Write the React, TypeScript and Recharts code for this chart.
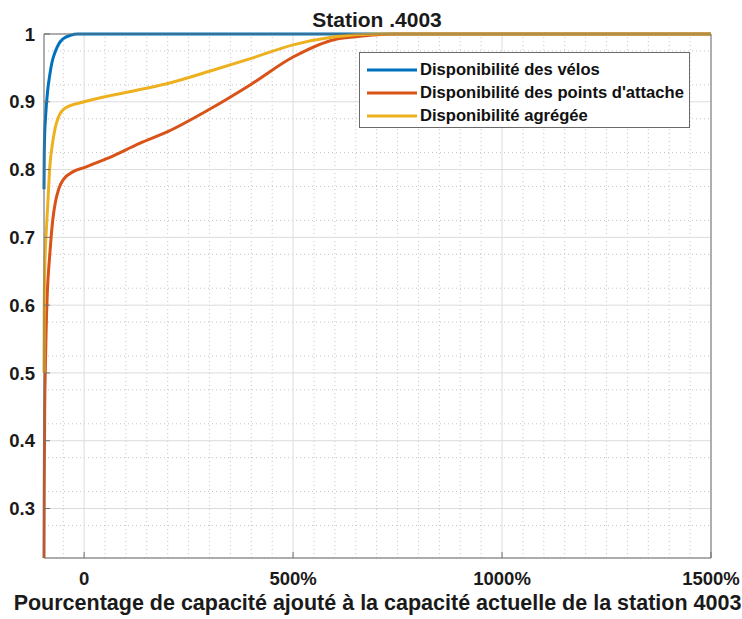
import { LineChart, Line, XAxis, YAxis, CartesianGrid, Legend, ReferenceLine } from 'recharts';

const FONT = '"Liberation Sans", Arial, Helvetica, sans-serif';

// axes
const X_MIN = -96;
const X_MAX = 1500;
const Y_MIN = 0.227;
const Y_MAX = 1;
const xTicks = [0, 500, 1000, 1500];
const yTicks = [0.3, 0.4, 0.5, 0.6, 0.7, 0.8, 0.9, 1];
const xMinor = [-50, 50, 100, 150, 200, 250, 300, 350, 400, 450, 550, 600, 650, 700, 750, 800, 850, 900, 950,
  1050, 1100, 1150, 1200, 1250, 1300, 1350, 1400, 1450];
const yMinor = [0.25, 0.275, 0.325, 0.35, 0.375, 0.425, 0.45, 0.475, 0.525, 0.55, 0.575, 0.625, 0.65, 0.675,
  0.725, 0.75, 0.775, 0.825, 0.85, 0.875, 0.925, 0.95, 0.975];

const seriesNames = [
  'Disponibilité des vélos',
  "Disponibilité des points d'attache",
  'Disponibilité agrégée',
];

// séries : [pourcentage ajouté, disponibilité]
const velos: [number, number][] = [
  [-96, 0.771], [-95.5, 0.815], [-94.5, 0.85], [-92.5, 0.875], [-87, 0.918], [-84, 0.932], [-77, 0.958],
  [-69, 0.974], [-61, 0.985], [-50, 0.993], [-33, 0.998], [-15, 1], [1500, 1],
];
const pointsAttache: [number, number][] = [
  [-96, 0.227], [-95.4, 0.33], [-94.4, 0.44], [-93, 0.5], [-91, 0.56], [-88, 0.619], [-83, 0.668],
  [-79, 0.7], [-75, 0.726], [-69, 0.751], [-61, 0.771], [-50, 0.785], [-26, 0.797], [0, 0.803],
  [54, 0.816], [134, 0.839], [200, 0.856], [300, 0.889], [400, 0.926], [500, 0.966],
  [600, 0.992], [650, 0.996], [700, 0.999], [750, 1], [1500, 1],
];
const agregee: [number, number][] = [
  [-96, 0.5], [-95.5, 0.6], [-93.5, 0.668], [-90.5, 0.71], [-87, 0.748], [-82, 0.805], [-76, 0.837],
  [-69, 0.862], [-61, 0.878], [-45, 0.891], [0, 0.9], [134, 0.918], [200, 0.927], [300, 0.945],
  [400, 0.964], [500, 0.984], [600, 0.996], [700, 1], [1500, 1],
];

const toRows = (pts: [number, number][]) => pts.map(([x, y]) => ({ x, y }));

const fmtX = (v: number) => (v === 0 ? '0' : `${v}%`);
const fmtY = (v: number) => (v === 1 ? '1' : v.toFixed(1));

const tickStyle = { fontFamily: FONT, fontSize: 18.5, fontWeight: 700, fill: '#1a1a1a' };
const AXIS = '#707070';

function LegendBox({ payload }: any) {
  const items = [...(payload || [])].sort(
    (a: any, b: any) => seriesNames.indexOf(a.value) - seriesNames.indexOf(b.value),
  );
  return (
    <div
      style={{
        background: '#fff',
        border: '1px solid #6a6a6a',
        boxSizing: 'border-box',
        width: 331,
        height: 76,
        padding: '5px 0 0 7px',
        fontFamily: FONT,
        fontWeight: 700,
        fontSize: 16.6,
        color: '#111',
      }}
    >
      {items.map((p: any) => (
        <div key={p.value} style={{ display: 'flex', alignItems: 'center', height: 23 }}>
          <svg width={50} height={6} style={{ marginRight: 3 }}>
            <line x1={0} y1={3} x2={50} y2={3} stroke={p.color} strokeWidth={3} />
          </svg>
          <span>{p.value}</span>
        </div>
      ))}
    </div>
  );
}

export default function App() {
  return (
    <div style={{ position: 'absolute', left: 0, top: 0, width: 742, height: 619, background: '#fff' }}>
      <LineChart width={742} height={619} margin={{ top: 33, right: 30, bottom: 0, left: 0 }}>
        <CartesianGrid xAxisId="minorX" yAxisId="minorY" vertical={false} stroke="#c4c4c4" strokeDasharray="1 3" />
        {xMinor.map(v => (
          <ReferenceLine key={v} x={v} stroke="#c4c4c4" strokeDasharray="1 3" zIndex={-100} />
        ))}
        <CartesianGrid stroke="#dcdcdc" />
        <XAxis
          type="number"
          dataKey="x"
          domain={[X_MIN, X_MAX]}
          ticks={xTicks}
          tickFormatter={fmtX}
          tick={tickStyle}
          tickSize={-6}
          tickMargin={20}
          stroke={AXIS}
          height={61}
          label={{
            value: 'Pourcentage de capacité ajouté à la capacité actuelle de la station 4003',
            position: 'insideBottom',
            offset: 9,
            style: { fontFamily: FONT, fontSize: 21.5, fontWeight: 700, fill: '#1a1a1a' },
          }}
        />
        <XAxis
          xAxisId="top"
          orientation="top"
          type="number"
          domain={[X_MIN, X_MAX]}
          ticks={xTicks}
          allowDataOverflow
          tick={false}
          tickSize={-6}
          stroke={AXIS}
          height={1}
        />
        <XAxis xAxisId="minorX" type="number" domain={[X_MIN, X_MAX]} ticks={xMinor} allowDataOverflow hide />
        <YAxis
          type="number"
          domain={[Y_MIN, Y_MAX]}
          ticks={yTicks}
          tickFormatter={fmtY}
          tick={tickStyle}
          tickSize={-6}
          tickMargin={15}
          stroke={AXIS}
          width={44}
        />
        <YAxis
          yAxisId="right"
          orientation="right"
          type="number"
          domain={[Y_MIN, Y_MAX]}
          ticks={yTicks}
          allowDataOverflow
          tick={false}
          tickSize={-6}
          stroke={AXIS}
          width={1}
        />
        <YAxis yAxisId="minorY" type="number" domain={[Y_MIN, Y_MAX]} ticks={yMinor} allowDataOverflow hide />
        <Legend
          layout="horizontal"
          verticalAlign="middle"
          align="center"
          wrapperStyle={{ left: 359, top: 52, width: 331, height: 76 }}
          content={<LegendBox />}
        />
        <Line data={toRows(velos)} dataKey="y" name={seriesNames[0]} type="monotone"
          stroke="#0072BD" strokeWidth={3} dot={false} isAnimationActive={false} />
        <Line data={toRows(pointsAttache)} dataKey="y" name={seriesNames[1]} type="monotone"
          stroke="#D95319" strokeWidth={3} dot={false} isAnimationActive={false} />
        <Line data={toRows(agregee)} dataKey="y" name={seriesNames[2]} type="monotone"
          stroke="#EDB120" strokeWidth={3} dot={false} isAnimationActive={false} />
      </LineChart>
      <svg width={742} height={40} style={{ position: 'absolute', left: 0, top: 0, pointerEvents: 'none' }}>
        <text x={377} y={27} textAnchor="middle" fontFamily={FONT} fontSize={21} fontWeight={700} fill="#1a1a1a">
          Station .4003
        </text>
      </svg>
    </div>
  );
}
